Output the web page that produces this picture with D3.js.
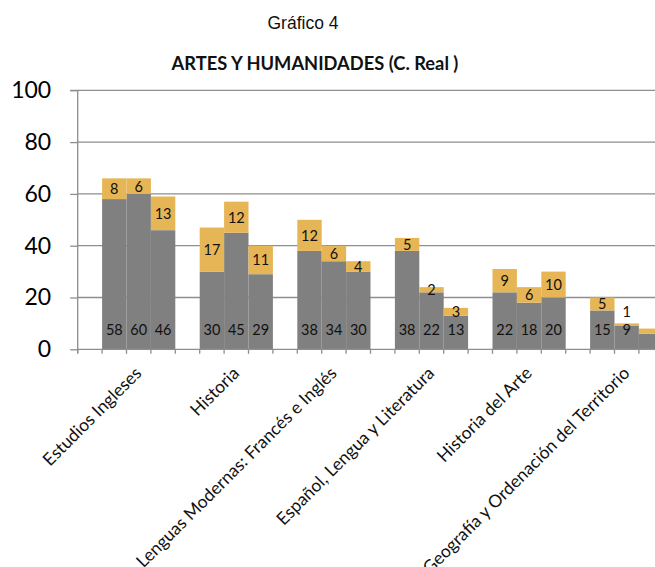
<!DOCTYPE html>
<html><head><meta charset="utf-8">
<script src="https://cdn.jsdelivr.net/npm/d3@7"></script>
<style>
html,body{margin:0;padding:0;background:#fff;}
svg{display:block;}
</style></head>
<body>
<svg id="chart" width="655" height="567"></svg>
<script>
const categories = ["Estudios Ingleses","Historia","Lenguas Modernas: Francés e Inglés","Español, Lengua y Literatura","Historia del Arte","Geografía y Ordenación del Territorio"];
const baseValues = [[58,60,46],[30,45,29],[38,34,30],[38,22,13],[22,18,20],[15,9,6]];
const topValues  = [[8,6,13],[17,12,11],[12,6,4],[5,2,3],[9,6,10],[5,1,2]];
const yTicks = [0,20,40,60,80,100];
const titleTop = "Gráfico 4";
const titleMain = "ARTES Y HUMANIDADES (C. Real )";

const W = 655, H = 567;
const svg = d3.select("#chart");
const x0 = 77.7, slotW = 24.4;
const x = d3.scaleBand().domain(categories).range([x0, x0 + slotW*4*categories.length]).padding(0);
const xi = d3.scaleBand().domain([0,1,2]).range([x.bandwidth()/4, x.bandwidth()]).padding(0);
const y = d3.scaleLinear().domain([0,100]).range([349.3, 90.3]);
const font = "Lato, 'Open Sans', sans-serif";
const GRID = "#8e8e8e", GRAY = "#808080", ORANGE = "#e6b556";

// titles
svg.append("text").attr("x", 303).attr("y", 29).attr("text-anchor","middle")
  .attr("font-family","'Liberation Sans', Arial, sans-serif").attr("font-size",17.5).attr("fill","#111").text(titleTop);
svg.append("text").attr("x", 315).attr("y", 70).attr("text-anchor","middle")
  .attr("font-family",font).attr("font-weight","bold").attr("font-size",18.3).attr("fill","#111").text(titleMain);

// gridlines
svg.append("g").selectAll("line").data(yTicks.filter(d=>d>0)).join("line")
  .attr("x1", x0).attr("x2", W).attr("y1", d=>y(d)).attr("y2", d=>y(d))
  .attr("stroke", GRID).attr("stroke-width", 1.3);

// y axis
const yAxis = d3.axisLeft(y).tickValues(yTicks).tickSize(7.5).tickPadding(19);
const gy = svg.append("g").attr("transform", `translate(${x0},0)`).call(yAxis);
gy.select(".domain").attr("stroke", GRID).attr("stroke-width",1.3).attr("d", `M-7.5,${y(100)}H0V${y(0)+4}`);
gy.selectAll(".tick line").attr("stroke", GRID).attr("stroke-width",1.3);
gy.selectAll(".tick text").attr("font-family",font).attr("font-size",23).attr("fill","#000");

// bars
const rows = [];
categories.forEach((c,gi)=>{
  [0,1,2].forEach(k=>rows.push({c, k, b: baseValues[gi][k], t: topValues[gi][k]}));
});
const bx = d => x(d.c) + xi(d.k);
const bars = svg.append("g");
bars.selectAll("rect.base").data(rows).join("rect").attr("class","base")
  .attr("x", bx).attr("width", xi.bandwidth()).attr("y", d=>y(d.b)).attr("height", d=>y(0)-y(d.b)).attr("fill", GRAY);
bars.selectAll("rect.top").data(rows).join("rect").attr("class","top")
  .attr("x", bx).attr("width", xi.bandwidth()).attr("y", d=>y(d.b+d.t)).attr("height", d=>y(d.b)-y(d.b+d.t)).attr("fill", ORANGE);

// x axis line and ticks
svg.append("line").attr("x1", x0).attr("x2", W).attr("y1", y(0)).attr("y2", y(0)).attr("stroke", GRID).attr("stroke-width",1.3);
const slotTicks = d3.range(0, categories.length*4+1).map(i => x0 + i*slotW);
svg.append("g").selectAll("line").data(slotTicks).join("line")
  .attr("x1", d=>d).attr("x2", d=>d).attr("y1", y(0)).attr("y2", y(0)+4.5).attr("stroke", GRID).attr("stroke-width",1.3);

// labels
const grayLabelY = 329;
const lab = svg.append("g").attr("font-family",font).attr("font-size",14.5).attr("fill","#111").attr("text-anchor","middle").attr("dominant-baseline","central");
const cx = d => bx(d) + xi.bandwidth()/2;
lab.selectAll("text.b").data(rows.filter(d=>cx(d)+6 <= W)).join("text").attr("class","b")
  .attr("x", cx).attr("y", grayLabelY).text(d=>d.b);
const topY = d => { const m = y(d.b + d.t/2); return Math.abs(m - grayLabelY) < 14 ? grayLabelY - 18 : m; };
lab.selectAll("text.t").data(rows.filter(d=>cx(d)+5 <= W)).join("text").attr("class","t")
  .attr("x", cx).attr("y", topY).text(d=>d.t);

// category labels
svg.append("g").selectAll("text").data(categories).join("text")
  .attr("transform", c => `translate(${x(c)+xi(1)+xi.bandwidth()/2+4},${y(0)+25}) rotate(-45)`)
  .attr("text-anchor","end").attr("font-family",font).attr("font-size",17.5).attr("fill","#111").text(c=>c);
</script>
</body></html>
